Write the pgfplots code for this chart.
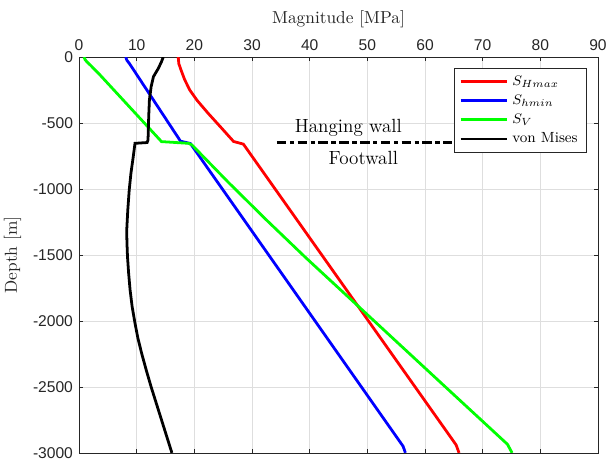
\documentclass[border=0pt]{standalone}
\usepackage{fontspec}
\usepackage{pgfplots}
\pgfplotsset{compat=1.18}
\newfontfamily\ticksf{Liberation Sans}
\begin{document}
\begin{tikzpicture}
\begin{axis}[name=ax, width=299.3pt, height=228.3pt, scale only axis,
  xmin=0, xmax=90, ymin=-3000, ymax=0,
  xtick={0,10,...,90}, ytick={-3000,-2500,...,0},
  xticklabel pos=upper,
  xlabel={Magnitude [MPa]}, ylabel={Depth [m]},
  grid=major, major grid style={black!13, line width=0.4pt},
  axis line style={black!85, line width=0.4pt},
  tick style={black!85, line width=0.4pt}, major tick length=2.5pt,
  tick align=inside,
  /pgf/number format/assume math mode=true, /pgf/number format/1000 sep={},
  tick label style={font=\ticksf\fontsize{9}{10}\selectfont, text=black!85},
  label style={font=\fontsize{10}{12}\selectfont, text=black!85},
  legend cell align=left,
  legend style={at={(1,1)}, anchor=north east, xshift=-6.5pt, yshift=-6.5pt,
    font=\fontsize{8.5}{9.5}\selectfont, draw=black!85, line width=0.4pt},
  legend image code/.code={\draw[#1] (0pt,0pt) -- (27pt,0pt);},
]
\addplot[red, line width=1.6pt] coordinates {
(17.2,0) (17.3,-50) (17.7,-100) (18.3,-170) (19.2,-250) (20.5,-330) (22.4,-427) (24.6,-533) (26.8,-640) (28.5,-660) (65.4,-2940) (65.9,-3000)};
\addlegendentry{$S_{Hmax}$}
\addplot[blue, line width=1.6pt] coordinates {
(8.1,0) (8.3,-25) (8.75,-50) (17.6,-638) (19.3,-655) (56.2,-2950) (56.6,-3000)};
\addlegendentry{$S_{hmin}$}
\addplot[green, line width=1.6pt] coordinates {
(0.85,0) (1.05,-20) (1.35,-36) (2.0,-63) (3.64,-136) (14.3,-641) (19.0,-654) (19.6,-667) (25.9,-950) (32.5,-1235) (39.3,-1520) (49.2,-1920) (61.8,-2430) (74.3,-2935) (75.1,-3000)};
\addlegendentry{$S_V$}
\addplot[black, line width=1.6pt] coordinates {
(14.6,0) (14.3,-35) (13.75,-86) (12.9,-149) (12.5,-225) (12.2,-326) (12.08,-452) (11.96,-629) (11.8,-648) (9.7,-654) (9.4,-755) (9.0,-880) (8.7,-1008) (8.45,-1160) (8.27,-1311) (8.3,-1400) (8.4,-1513) (8.6,-1640) (8.85,-1765) (9.2,-1890) (9.7,-2017) (10.2,-2130) (10.85,-2245) (11.7,-2380) (12.5,-2500) (14.3,-2750) (16.1,-3000)};
\addlegendentry{von Mises}
\addplot[black, line width=1.8pt, dash pattern=on 5.5pt off 2pt on 2.5pt off 2pt, forget plot] coordinates {(34.3,-650) (64.6,-650)};
\node[font=\fontsize{11}{13}\selectfont] at (axis cs:46.7,-540) {Hanging wall};
\node[font=\fontsize{11}{13}\selectfont] at (axis cs:49.3,-767) {Footwall};
\end{axis}
\pgfresetboundingbox
\path ([xshift=-45.6pt, yshift=-6.3pt]ax.south west) rectangle ([xshift=5.2pt, yshift=32.9pt]ax.north east);
\end{tikzpicture}
\end{document}
